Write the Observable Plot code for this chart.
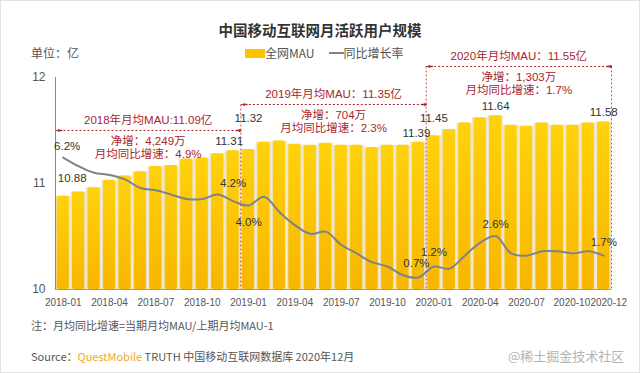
<!DOCTYPE html>
<html><head><meta charset="utf-8">
<script src="https://cdn.jsdelivr.net/npm/d3@7"></script>
<script src="https://cdn.jsdelivr.net/npm/@observablehq/plot@0.6"></script>
<style>
body{margin:0;background:#fff;}
#card{position:relative;width:640px;height:373px;box-sizing:border-box;box-shadow:inset 0 0 0 1px #e2e2e2;overflow:hidden;font-family:"Liberation Sans","Noto Sans CJK SC",sans-serif;}
.abs{position:absolute;white-space:nowrap;line-height:1;}
</style></head><body>
<div id="card">
 <div id="chart" class="abs" style="left:0;top:44px"></div>
 <div class="abs" style="left:0;width:640px;top:23px;text-align:center;font-size:14.5px;font-weight:bold;color:#333;font-family:'Noto Sans CJK SC',sans-serif">中国移动互联网月活跃用户规模</div>
 <div class="abs" style="left:31px;top:47px;font-size:12px;color:#555;font-family:'Noto Sans CJK SC',sans-serif">单位：亿</div>
 <div class="abs" style="left:245px;top:47px;font-size:12px;color:#555;display:flex;align-items:center;font-family:'Noto Sans CJK SC',sans-serif">
   <span style="display:inline-block;width:20px;height:9px;background:#FFC400"></span><span>全网MAU</span>
   <span style="display:inline-block;width:15px;height:2px;background:#7c8489;margin-left:14px"></span><span>同比增长率</span>
 </div>
 <div class="abs" style="left:31px;top:320px;font-size:11px;color:#555;font-family:'Noto Sans CJK SC',sans-serif">注：月均同比增速=当期月均MAU/上期月均MAU-1</div>
 <div class="abs" style="left:31px;top:351px;font-size:11px;color:#555;font-family:'Noto Sans CJK SC',sans-serif">Source：<span style="color:#F5A623">QuestMobile</span> TRUTH 中国移动互联网数据库 2020年12月</div>
 <div class="abs" style="left:508px;top:349px;font-size:13px;color:#b4b4b4;font-family:'Noto Sans CJK SC',sans-serif">@稀土掘金技术社区</div>
</div>
<script>
const months = ["2018-01","2018-02","2018-03","2018-04","2018-05","2018-06","2018-07","2018-08","2018-09","2018-10","2018-11","2018-12",
  "2019-01","2019-02","2019-03","2019-04","2019-05","2019-06","2019-07","2019-08","2019-09","2019-10","2019-11","2019-12",
  "2020-01","2020-02","2020-03","2020-04","2020-05","2020-06","2020-07","2020-08","2020-09","2020-10","2020-11","2020-12"];
const mau = [10.88,10.92,10.96,11.03,11.07,11.11,11.16,11.17,11.23,11.24,11.28,11.31,
  11.32,11.39,11.40,11.37,11.36,11.38,11.36,11.36,11.34,11.36,11.36,11.39,
  11.45,11.51,11.57,11.62,11.64,11.55,11.54,11.57,11.55,11.55,11.57,11.58];
const rate = [6.2,5.8,5.5,5.4,5.2,4.8,4.7,4.5,4.3,4.3,4.5,4.2,
  4.0,4.4,3.7,3.1,2.7,2.8,2.2,1.8,1.4,1.2,0.8,0.7,
  1.2,1.1,1.7,2.3,2.6,1.8,1.7,1.9,1.9,1.8,1.9,1.7];
const tickMonths = ["2018-01","2018-04","2018-07","2018-10","2019-01","2019-04","2019-07","2019-10","2020-01","2020-04","2020-07","2020-10","2020-12"];
const yTicks = [10, 11, 12];
const years = ["2018","2019","2020"];
const yearTitles = ["2018年月均MAU:11.09亿","2019年月均MAU：11.35亿","2020年月均MAU：11.55亿"];
const yearNetAdd = ["4,249万","704万","1,303万"];
const yearGrowth = ["4.9%","2.3%","1.7%"];
const mauLabelMonths = ["2018-01","2018-12","2019-01","2019-12","2020-01","2020-05","2020-12"];
const rateLabelMonths = ["2018-01","2018-12","2019-01","2019-12","2020-01","2020-05","2020-12"];

// styling / placement (not data)
const mauLabelOffsets = [[9,-18],[-4,-9],[0,-31],[-2,-9],[0,-17],[0,-9],[0,-10]];
const rateLabelOffsets = [[4,-11],[0,-18],[0,17],[-2,-14],[0,-14],[0,-12],[0,-13]];
const tickLabelShift = {"2020-10": -1, "2020-12": 5};
const annoLevel = [11.5, 11.745, 12.104];
const RED = "#a8262d";
// secondary (rate, %) axis mapped onto the MAU axis
const rateAxis = {base: 9.9698, perPct: 0.20566};
const rateToY = v => rateAxis.base + rateAxis.perPct * v;

const data = months.map((m, i) => ({i, month: m, mau: mau[i], rate: rate[i]}));
const idx = m => months.indexOf(m);
const periods = years.map((y, k) => {
  const start = months.findIndex(m => m.startsWith(y));
  const end = months.length - 1 - [...months].reverse().findIndex(m => m.startsWith(y));
  return {k, start, end, y: annoLevel[k]};
});

const marks = [
  Plot.rectY(data, {x1: d => d.i - 0.5, x2: d => d.i + 0.5, y1: 10, y2: "mau", fill: "#efe5ca"}),
  Plot.rectY(data, {x1: d => d.i - 0.5, x2: d => d.i + 0.5, y1: 10, y2: "mau", insetLeft: 1.6, insetRight: 1.6, fill: "url(#barGrad)", rx: 2}),
  Plot.ruleY([10], {stroke: "#9a9a9a"}),
  Plot.ruleX([-0.5], {y1: 10, y2: 12, stroke: "#8a8a8a"}),
  Plot.line(data, {x: "i", y: d => rateToY(d.rate), curve: "catmull-rom", stroke: "#7c8489", strokeWidth: 2}),
  Plot.link(periods, {x1: d => d.end + 0.5, x2: d => d.end + 0.5, y1: d => (d.k < 2 ? annoLevel[d.k + 1] : d.y), y2: 10, stroke: RED, strokeDasharray: "2,2", strokeOpacity: 0.8}),
  Plot.link(periods, {x1: d => d.start - 0.5, x2: d => d.end + 0.5, y1: "y", y2: "y", stroke: RED, strokeDasharray: "2,2"}),
  Plot.arrow(periods, {x1: d => d.end + 0.2, x2: d => d.end + 0.5, y1: "y", y2: "y", stroke: RED, headLength: 5, strokeWidth: 1.4}),
  Plot.arrow(periods, {x1: d => d.start - 0.1, x2: d => d.start - 0.35, y1: "y", y2: "y", stroke: RED, headLength: 5, strokeWidth: 1.4}),
  Plot.text(periods, {x: d => (d.start + d.end) / 2, y: "y", text: d => yearTitles[d.k], dy: -10, fill: RED, fontSize: 11.5}),
  Plot.text(periods, {x: d => (d.start + d.end) / 2, y: "y", text: d => "净增：" + yearNetAdd[d.k], dy: 11, fill: RED, fontSize: 11.5}),
  Plot.text(periods, {x: d => (d.start + d.end) / 2, y: "y", text: d => "月均同比增速：" + yearGrowth[d.k], dy: 24, fill: RED, fontSize: 11.5}),
  ...mauLabelMonths.map((m, k) => Plot.text([data[idx(m)]], {x: "i", y: "mau", text: d => d.mau.toFixed(2), dx: mauLabelOffsets[k][0], dy: mauLabelOffsets[k][1], fill: "#333", fontSize: 11.5})),
  ...rateLabelMonths.map((m, k) => Plot.text([data[idx(m)]], {x: "i", y: d => rateToY(d.rate), text: d => d.rate.toFixed(1) + "%", dx: rateLabelOffsets[k][0], dy: rateLabelOffsets[k][1], fill: "#333", fontSize: 11.5}))
];

const chart = Plot.plot({
  width: 640, height: 276,
  marginLeft: 55, marginRight: 29, marginTop: 33, marginBottom: 31,
  style: {fontFamily: "'Liberation Sans','Noto Sans CJK SC',sans-serif", fontSize: "10px", color: "#555", background: "transparent", overflow: "visible"},
  x: {domain: [-0.5, 35.5], ticks: tickMonths.map(idx), tickFormat: i => months[i], tickSize: 0, tickPadding: 9, label: null},
  y: {domain: [10, 12], ticks: yTicks, tickFormat: d => String(d), tickSize: 0, tickPadding: 10, label: null},
  marks
});
d3.select(chart).insert("defs", ":first-child").html(
  '<linearGradient id="barGrad" x1="0" y1="0" x2="0" y2="1"><stop offset="0" stop-color="#FFD20C"/><stop offset="1" stop-color="#F8B600"/></linearGradient>');
d3.select(chart).selectAll("[aria-label='y-axis'] text, g[aria-label='y-axis tick label'] text").style("font-size", "12px");
d3.select(chart).selectAll("text").each(function() {
  const t = this.textContent;
  if (t in tickLabelShift && this.closest("[aria-label^='x-axis']")) d3.select(this).attr("dx", tickLabelShift[t]);
});
document.getElementById("chart").appendChild(chart);
</script>
</body></html>
